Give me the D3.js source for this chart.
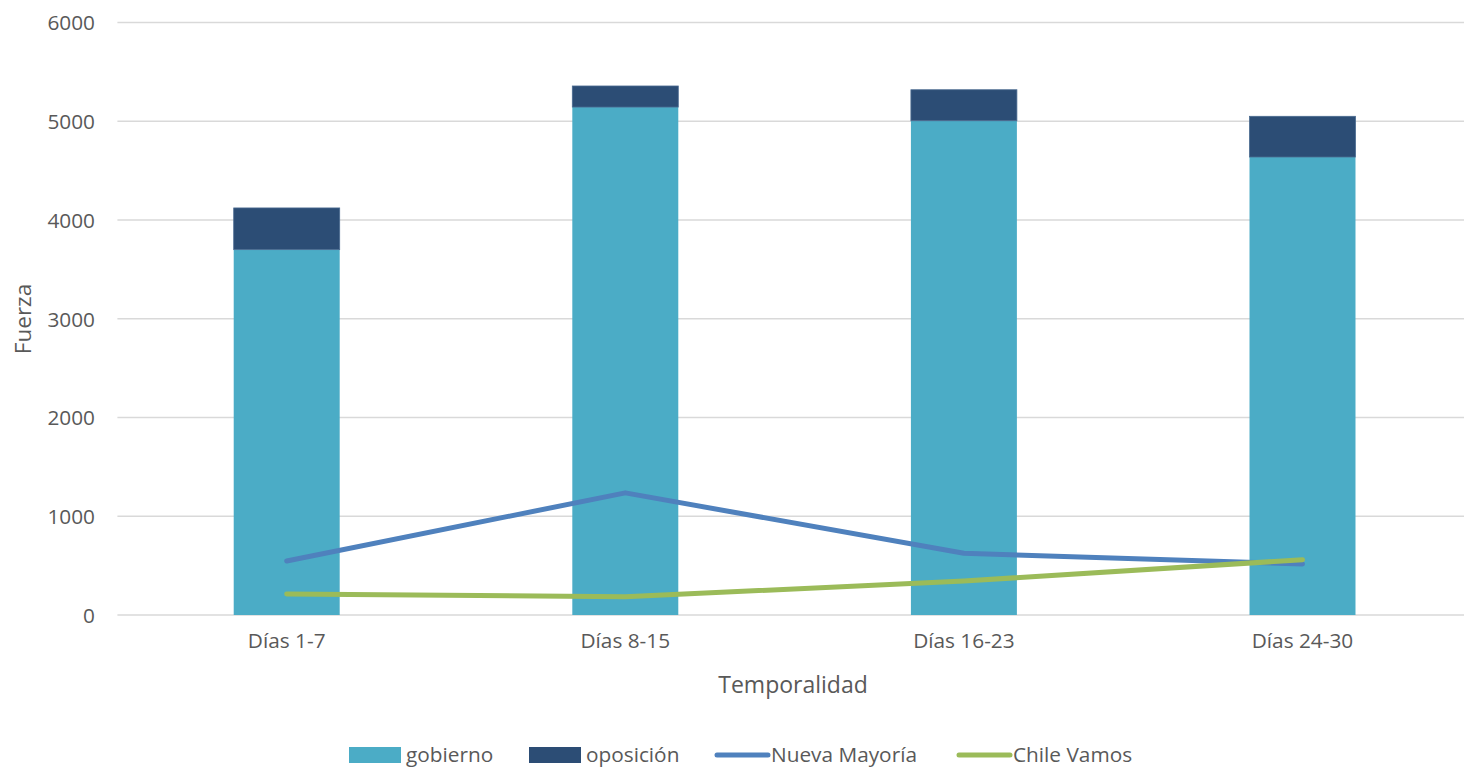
<!DOCTYPE html>
<html><head><meta charset="utf-8">
<script src="https://cdn.jsdelivr.net/npm/d3@7"></script>
<style>body{margin:0;background:#fff;overflow:hidden}svg{display:block}text{font-family:"Open Sans",sans-serif;fill:#595959}</style>
</head><body><svg id="c" width="1464" height="768"></svg>
<script>
const categories = ["Días 1-7","Días 8-15","Días 16-23","Días 24-30"];
const gobierno = [3700, 5144, 5005, 4638];
const oposicion = [422, 213, 314, 412];
const nuevaMayoria = [547, 1237, 625, 517];
const chileVamos = [213, 185, 344, 560];
const yTicks = [0,1000,2000,3000,4000,5000,6000];

const svg = d3.select("#c");
const x = d3.scaleBand().domain(categories).range([117.4, 1471.8]).padding(0);
const y = d3.scaleLinear().domain([0,6000]).range([615, 22.5]);
const barW = x.step()*0.313;
const cx = d => x(d)+x.bandwidth()/2;

// gridlines
svg.append("g").selectAll("line").data(yTicks).join("line")
  .attr("x1",117.4).attr("x2",1471.8).attr("y1",d=>y(d)).attr("y2",d=>y(d))
  .attr("stroke","#d9d9d9").attr("stroke-width",1.3);

// y axis labels
const yAxis = d3.axisLeft(y).tickValues(yTicks).tickSize(0).tickPadding(0).tickFormat(d3.format("d"));
const ya = svg.append("g").attr("transform","translate(95,0)").call(yAxis);
ya.select(".domain").remove();
ya.selectAll("text").attr("font-size",20.8).attr("font-family","Open Sans").attr("fill","#595959").attr("dy","0.35em");

// x axis labels
const xAxis = d3.axisBottom(x).tickSize(0).tickPadding(0);
const xa = svg.append("g").attr("transform","translate(0,633)").call(xAxis);
xa.select(".domain").remove();
xa.selectAll("text").attr("font-size",20.8).attr("font-family","Open Sans").attr("fill","#595959").attr("dy","0.71em");

// stacked bars
const bars = svg.append("g");
bars.selectAll("rect.g").data(categories).join("rect").attr("class","g")
  .attr("x",d=>cx(d)-barW/2).attr("width",barW)
  .attr("y",(d,i)=>y(gobierno[i])).attr("height",(d,i)=>y(0)-y(gobierno[i]))
  .attr("fill","#4bacc6");
bars.selectAll("rect.o").data(categories).join("rect").attr("class","o")
  .attr("x",d=>cx(d)-barW/2).attr("width",barW)
  .attr("y",(d,i)=>y(gobierno[i]+oposicion[i])).attr("height",(d,i)=>y(gobierno[i])-y(gobierno[i]+oposicion[i]))
  .attr("fill","#2c4d75").attr("stroke","#4a6a90").attr("stroke-width",0.8);

// lines
const line = d3.line().x((d,i)=>cx(categories[i])).y(d=>y(d));
svg.append("path").datum(nuevaMayoria).attr("d",line).attr("fill","none")
  .attr("stroke","#4f81bd").attr("stroke-width",5).attr("stroke-linecap","round").attr("stroke-linejoin","round");
svg.append("path").datum(chileVamos).attr("d",line).attr("fill","none")
  .attr("stroke","#9bbb59").attr("stroke-width",5).attr("stroke-linecap","round").attr("stroke-linejoin","round");

// axis titles
svg.append("text").attr("x",793).attr("y",685).attr("text-anchor","middle").attr("dy","0.35em")
  .attr("font-size",23).text("Temporalidad");
svg.append("text").attr("transform","translate(23,319) rotate(-90)").attr("text-anchor","middle").attr("dy","0.35em")
  .attr("font-size",22.5).text("Fuerza");

// legend
const legend = [
  {name:"gobierno", type:"rect", color:"#4bacc6", x:349},
  {name:"oposición", type:"rect", color:"#2c4d75", x:529},
  {name:"Nueva Mayoría", type:"line", color:"#4f81bd", x:715},
  {name:"Chile Vamos", type:"line", color:"#9bbb59", x:957}
];
const lg = svg.append("g").selectAll("g").data(legend).join("g").attr("transform",d=>`translate(${d.x},755)`);
lg.filter(d=>d.type==="rect").append("rect").attr("x",0).attr("y",-8).attr("width",52).attr("height",16).attr("fill",d=>d.color);
lg.filter(d=>d.type==="line").append("line").attr("x1",2).attr("x2",53).attr("y1",0).attr("y2",0)
  .attr("stroke",d=>d.color).attr("stroke-width",5).attr("stroke-linecap","round");
lg.append("text").attr("x",d=>d.type==="rect"?57:56).attr("y",0).attr("dy","0.35em").attr("font-size",20.8).text(d=>d.name);
</script></body></html>
